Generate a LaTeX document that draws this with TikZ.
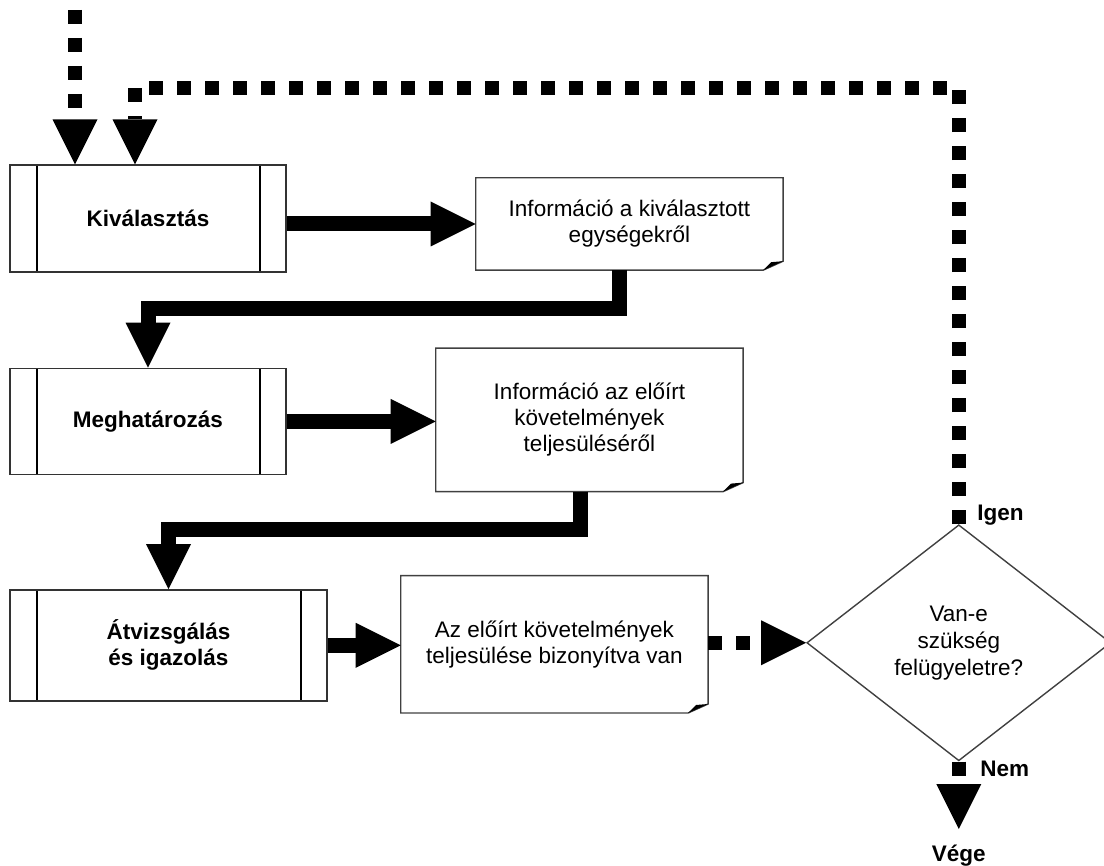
\documentclass[tikz,border=0pt]{standalone}
\usepackage{fontspec}
\setmainfont{Liberation Sans}
\usepackage{tikz}
\usetikzlibrary{positioning}
\usetikzlibrary{shapes.geometric}
\usetikzlibrary{arrows.meta}
\newcommand{\docfold}[1]{%
\draw[docline] (#1.south west) -- (#1.north west) -- (#1.north east) -- ([yshift=9pt]#1.south east) -- ([xshift=-20pt]#1.south east) -- cycle;
\fill ([xshift=-20pt]#1.south east) -- ([xshift=-12pt,yshift=8pt]#1.south east) -- ([yshift=9pt]#1.south east) -- cycle;
}

\begin{document}
\begin{tikzpicture}[x=1pt,y=-1pt,
procbox/.style = {rectangle, draw=black!80, line width=1.4pt, minimum width=276pt, minimum height=107pt, align=center, font=\fontsize{22.5}{26}\selectfont\bfseries,
  path picture={\draw[black, line width=1.4pt] ([xshift=27pt]path picture bounding box.north west) -- ([xshift=27pt]path picture bounding box.south west);
  \draw[black, line width=1.4pt] ([xshift=-26pt]path picture bounding box.north east) -- ([xshift=-26pt]path picture bounding box.south east);}},
docbox/.style = {rectangle, minimum width=307pt, align=center, font=\fontsize{22.5}{26}\selectfont},
docline/.style = {draw=black!75, line width=1.4pt},
decision/.style = {diamond, docline, aspect=1.3, inner sep=0pt, minimum width=304pt, minimum height=236pt, align=center, font=\fontsize{22.5}{27}\selectfont},
fatarrow/.style = {line width=15pt, -{Triangle[length=45pt,width=45pt,line width=0pt]}},
dotarrow/.style = {line width=14pt, dash pattern=on 14pt off 14pt, -{Triangle[length=45pt,width=45pt,line width=0pt]}},
lbl/.style = {font=\fontsize{22.5}{27}\selectfont\bfseries}
]
\useasboundingbox (0,0) rectangle (1104,866);

\node (kivalasztas)[procbox] at (148,218.5) {Kiválasztás};
\node (info1)[docbox, minimum height=92pt, right=189pt of kivalasztas, yshift=-5.5pt] {Információ a kiválasztott\\egységekről};
\node (meghatarozas)[procbox, minimum height=106pt, below=95pt of kivalasztas] {Meghatározás};
\node (info2)[docbox, minimum height=143pt, right=149pt of meghatarozas, yshift=1.5pt] {Információ az előírt\\követelmények\\teljesüléséről};
\node (atvizsgalas)[procbox, minimum width=317pt, minimum height=111pt, below=114pt of meghatarozas.south west, anchor=north west] {Átvizsgálás\\és igazolás};
\node (info3)[docbox, minimum height=137pt, right=73pt of atvizsgalas, yshift=1pt] {Az előírt követelmények\\teljesülése bizonyítva van};
\node (dontes)[decision, right=98pt of info3, yshift=1.5pt] {Van-e\\szükség\\felügyeletre?};
\node (igen)[lbl, anchor=base west] at ([xshift=15pt,yshift=4pt]dontes.north) {Igen};
\node (nem)[lbl, anchor=base west] at ([xshift=18pt,yshift=-15pt]dontes.south) {Nem};
\node (vege)[lbl, inner sep=0pt, outer sep=16pt, anchor=base] at ([yshift=-100pt]dontes.south) {Vége};
\coordinate (entry) at (75,10);

\docfold{info1}
\docfold{info2}
\docfold{info3}

% main flow
\draw[fatarrow] (kivalasztas.east |- info1.west) -- (info1.west);
\draw[fatarrow] ([xshift=-10pt]info1.south) -- ++(0,38) -| (meghatarozas.north);
\draw[fatarrow] (meghatarozas.east) -- (meghatarozas.east -| info2.west);
\draw[fatarrow] ([xshift=-9pt]info2.south) -- ++(0,38) -| (atvizsgalas.north);
\draw[fatarrow] (atvizsgalas.east) -- (atvizsgalas.east -| info3.west);

% dotted links
\draw[dotarrow] (info3.east |- dontes.west) -- (dontes.west);
\draw[dotarrow] (entry) -- ([xshift=-73pt]kivalasztas.north);
\draw[dotarrow] (dontes.north) -- ++(0,-436) -| ([xshift=-13pt]kivalasztas.north);
\draw[dotarrow] (dontes.south) -- (vege.north);

\end{tikzpicture}
\end{document}
